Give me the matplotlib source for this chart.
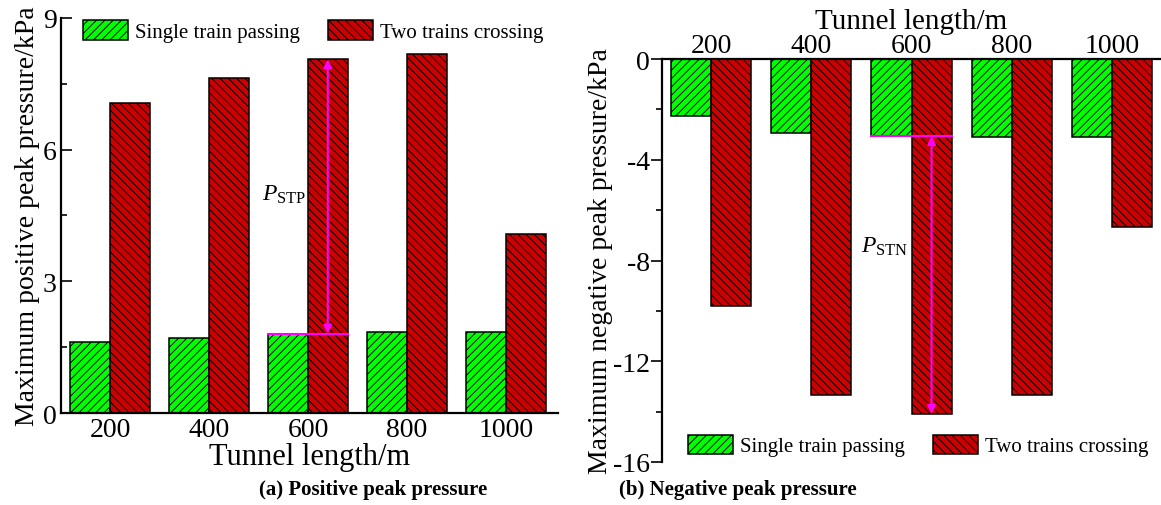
import matplotlib
matplotlib.use("Agg")
import matplotlib.pyplot as plt
from matplotlib.ticker import MultipleLocator
import numpy as np

lengths = ["200", "400", "600", "800", "1000"]
pos_single = [1.61, 1.72, 1.81, 1.85, 1.84]
pos_two = [7.07, 7.63, 8.06, 8.19, 4.08]
neg_single = [-2.26, -2.94, -3.06, -3.10, -3.10]
neg_two = [-9.79, -13.36, -14.09, -13.33, -6.68]
series_names = ["Single train passing", "Two trains crossing"]

GREEN = "#00ff00"
RED = "#cc0000"
MAGENTA = "#ff00ff"

plt.rcParams["font.family"] = ["Liberation Serif", "DejaVu Serif"]
plt.rcParams["mathtext.fontset"] = "custom"
plt.rcParams["mathtext.rm"] = "Liberation Serif"
plt.rcParams["mathtext.it"] = "Liberation Serif:italic"
plt.rcParams["hatch.linewidth"] = 0.7


def draw_bars(ax, single, two):
    x = np.arange(len(lengths))
    w = 0.4
    ax.bar(x - w/2, single, w, color=GREEN, edgecolor="black", linewidth=1.1,
           hatch="////", label=series_names[0])
    ax.bar(x + w/2, two, w, color=RED, edgecolor="black", linewidth=1.1,
           hatch="\\\\\\\\", label=series_names[1])
    return x, w


def add_legend(fig, ax, anchor):
    ax.legend(loc="upper left", bbox_to_anchor=anchor, bbox_transform=fig.transFigure,
              ncol=2, frameon=False, fontsize=15, borderpad=0, borderaxespad=0,
              handlelength=2.16, handleheight=1.06, handletextpad=0.34,
              columnspacing=1.35)


def gap_marker(ax, idx, w, low, high):
    # horizontal line at single-train level, double arrow on the two-train bar
    ax.plot([idx - w, idx + w], [low, low], color=MAGENTA, lw=1.5, zorder=5)
    ax.annotate("", xy=(idx + w/2, high), xytext=(idx + w/2, low),
                arrowprops=dict(arrowstyle="<|-|>", color=MAGENTA, lw=1.5,
                                mutation_scale=12, shrinkA=0, shrinkB=0),
                zorder=6)


fig = plt.figure(figsize=(11.61, 5.06), dpi=100)

# (a) positive
ax1 = fig.add_axes([0.0525, 0.1818, 0.4281, 0.7807])
x, w = draw_bars(ax1, pos_single, pos_two)
ax1.set_xlim(-0.495, 4.525)
ax1.set_ylim(0, 9)
ax1.set_xticks(x)
ax1.set_xticklabels(lengths)
ax1.yaxis.set_major_locator(MultipleLocator(3))
ax1.yaxis.set_minor_locator(MultipleLocator(1.5))
ax1.tick_params(axis="x", length=0, labelsize=20, pad=3)
ax1.tick_params(axis="y", which="major", direction="in", length=8, width=1.2,
                labelsize=20, pad=3)
ax1.tick_params(axis="y", which="minor", direction="in", length=4, width=1.2)
for s in ["top", "right"]:
    ax1.spines[s].set_visible(False)
for s in ["left", "bottom"]:
    ax1.spines[s].set_linewidth(1.6)
ax1.set_xlabel("Tunnel length/m", fontsize=22, labelpad=0)
ax1.set_ylabel("Maximum positive peak pressure/kPa", fontsize=20, labelpad=2)
add_legend(fig, ax1, (0.0715, 0.958))
gap_marker(ax1, 2, w, pos_single[2], pos_two[2])
ax1.text(1.98, 5.0, r"$\mathit{P}_{\mathrm{STP}}$", fontsize=17, ha="right", va="center")

# (b) negative
ax2 = fig.add_axes([0.5702, 0.085, 0.4298, 0.7964])
x, w = draw_bars(ax2, neg_single, neg_two)
ax2.set_xlim(-0.489, 4.489)
ax2.set_ylim(-16, 0)
ax2.set_xticks(x)
ax2.set_xticklabels(lengths)
ax2.xaxis.tick_top()
ax2.xaxis.set_label_position("top")
ax2.yaxis.set_major_locator(MultipleLocator(4))
ax2.yaxis.set_minor_locator(MultipleLocator(2))
ax2.tick_params(axis="x", length=0, labelsize=20, pad=0.5)
ax2.tick_params(axis="y", which="major", direction="out", length=8, width=1.2,
                labelsize=20, pad=1)
ax2.tick_params(axis="y", which="minor", direction="out", length=4, width=1.2)
for s in ["bottom", "right"]:
    ax2.spines[s].set_visible(False)
for s in ["left", "top"]:
    ax2.spines[s].set_linewidth(1.6)
ax2.set_yticks([0, -4, -8, -12, -16])
ax2.set_yticklabels(["0", "-4", "-8", "-12", "-16"])
ax2.set_xlabel("Tunnel length/m", fontsize=21, labelpad=4)
ax2.set_ylabel("Maximum negative peak pressure/kPa", fontsize=20, labelpad=0)
add_legend(fig, ax2, (0.5926, 0.139))
gap_marker(ax2, 2, w, neg_single[2], neg_two[2])
ax2.text(1.97, -7.4, r"$\mathit{P}_{\mathrm{STN}}$", fontsize=17, ha="right", va="center")

fig.text(373/1161, 1 - 490/506, "(a) Positive peak pressure", fontsize=15,
         fontweight="bold", ha="center", va="center")
fig.text(738/1161, 1 - 490/506, "(b) Negative peak pressure", fontsize=15,
         fontweight="bold", ha="center", va="center")

fig.savefig("out.png", dpi=100)
